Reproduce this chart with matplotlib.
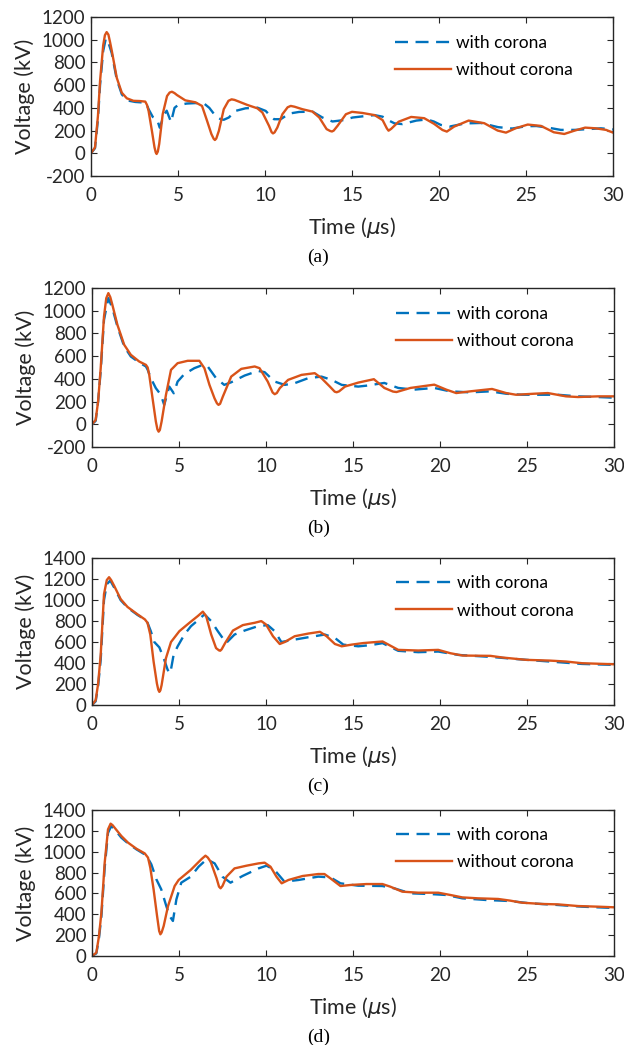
import matplotlib
matplotlib.use("Agg")
import matplotlib.pyplot as plt

# Panel (a)
t_a_with = [0, 0.23, 0.4, 0.52, 0.7, 0.85, 1.0, 1.19, 1.48, 1.77, 2.06, 2.54, 3.08, 3.2, 3.31, 3.55,
            3.8, 3.95, 4.2, 4.35, 4.6, 4.8, 5.0, 5.5, 6.0, 6.5, 6.8, 7.15, 7.45, 7.63, 7.92,
            8.3, 8.88, 9.56, 10.04, 10.3, 10.52, 10.9, 11.4, 11.96, 12.73, 13.3, 13.88,
            14.46, 15.04, 15.6, 16.3, 16.76, 17.1, 17.45, 17.9, 18.7, 19.3, 19.7, 20.1,
            20.6, 21.5, 22.4, 23.4, 24.2, 25.0, 25.6, 26.3, 27.0, 27.8, 28.5, 29.3, 30]
v_a_with = [0, 45, 300, 600, 900, 1010, 975, 883, 650, 519, 466, 452, 446, 430, 388, 320,
            298, 225, 340, 375, 275, 400, 425, 438, 442, 438, 400, 330, 300, 295, 315,
            373, 396, 402, 373, 330, 300, 300, 350, 364, 367, 315, 280,
            291, 315, 325, 336, 322, 290, 263, 257, 288, 298, 280, 250,
            235, 263, 267, 230, 218, 238, 240, 225, 206, 206, 212, 220, 210]
t_a_without = [0, 0.23, 0.4, 0.52, 0.7, 0.8, 0.9, 1.0, 1.1, 1.2, 1.48, 1.77, 2.06, 2.44, 2.8,
               3.12, 3.22, 3.31, 3.5, 3.65, 3.72, 3.77, 3.84, 3.92, 4.12, 4.37, 4.52, 4.65,
               4.8, 4.94, 5.42, 6.0, 6.38, 6.67, 6.92, 7.05, 7.12, 7.2, 7.35, 7.63, 7.9,
               8.08, 8.25, 8.5, 8.98, 9.56, 9.85, 10.23, 10.38, 10.46, 10.55, 10.71, 11.0,
               11.3, 11.48, 11.7, 12.15, 12.73, 13.12, 13.54, 13.75, 13.85, 13.95, 14.17,
               14.65, 15.0, 15.6, 16.3, 16.76, 17.0, 17.1, 17.25, 17.68, 18.4, 19.15, 19.72,
               20.2, 20.45, 20.87, 21.7, 22.6, 23.37, 23.85, 24.4, 25.1, 25.86, 26.6, 27.2,
               27.8, 28.4, 29.0, 29.6, 30]
v_a_without = [0, 52, 330, 635, 950, 1040, 1067, 1045, 975, 898, 665, 533, 484, 462, 460,
               455, 425, 373, 198, 52, 8, -6, 15, 82, 344, 504, 535, 542,
               530, 513, 466, 449, 417, 286, 169, 128, 117, 130, 198, 388, 462,
               475, 470, 455, 426, 396, 359, 242, 186, 175, 184, 227, 344,
               405, 417, 410, 388, 367, 315, 213, 196, 192, 200, 242,
               344, 365, 355, 336, 292, 220, 199, 215, 278, 320, 309, 259,
               205, 191, 235, 288, 265, 200, 182, 220, 253, 241, 185, 170,
               200, 226, 220, 206, 182]

# Panel (b)
t_b_with = [0, 0.21, 0.35, 0.5, 0.69, 0.94, 1.17, 1.46, 1.85, 2.23, 2.71, 3.1, 3.2, 3.38, 3.67,
            3.96, 4.15, 4.44, 4.7, 4.92, 5.3, 5.88, 6.37, 6.65, 7.13, 7.6, 8.0, 8.77, 9.54,
            9.92, 10.5, 11.08, 11.65, 12.42, 13.19, 13.77, 14.35, 15.3, 15.77, 16.8, 17.6,
            18.5, 19.67, 20.58, 21.73, 22.88, 23.8, 24.7, 25.85, 26.77, 27.93, 29.08, 30]
v_b_with = [0, 30, 200, 470, 920, 1111, 1023, 861, 685, 597, 544, 509, 480, 406, 318,
            259, 170, 332, 273, 376, 441, 494, 523, 509, 406, 347, 370, 429, 470,
            459, 376, 347, 362, 406, 420, 391, 347, 332, 340, 364, 320,
            305, 320, 290, 281, 290, 269, 260, 260, 260, 246, 240, 234]
t_b_without = [0, 0.21, 0.35, 0.5, 0.69, 0.82, 0.94, 1.05, 1.17, 1.46, 1.85, 2.23, 2.71, 3.1,
               3.2, 3.29, 3.48, 3.67, 3.76, 3.83, 3.9, 4.0, 4.25, 4.54, 4.92, 5.5, 6.17,
               6.46, 6.75, 7.04, 7.18, 7.27, 7.36, 7.52, 8.0, 8.58, 9.35, 9.63, 10.1, 10.38,
               10.5, 10.62, 10.79, 11.27, 12.04, 12.8, 13.19, 13.67, 13.95, 14.06, 14.2,
               14.54, 15.3, 16.2, 16.8, 17.3, 17.5, 18.3, 19.67, 20.36, 20.93, 21.73, 22.99,
               23.8, 24.37, 25.4, 26.2, 27.24, 27.93, 29.08, 30]
v_b_without = [0, 38, 200, 494, 950, 1110, 1155, 1120, 1052, 876, 700, 612, 553, 523,
               500, 435, 229, 24, -45, -65, -50, 24, 259, 479, 538, 559, 559,
               494, 347, 229, 185, 171, 180, 244, 420, 488, 509, 494, 376, 280,
               265, 275, 318, 391, 435, 450, 406, 332, 287, 282, 290,
               332, 367, 397, 320, 288, 284, 320, 349, 305, 275, 290, 311,
               275, 260, 269, 275, 246, 240, 246, 246]

# Panel (c)
t_c_with = [0, 0.21, 0.35, 0.5, 0.69, 0.85, 1.05, 1.27, 1.65, 2.04, 2.62, 3.1, 3.2, 3.38, 3.58,
            3.87, 4.12, 4.35, 4.5, 4.69, 4.92, 5.31, 5.69, 6.08, 6.46, 6.85, 7.23, 7.71,
            8.19, 8.77, 9.54, 10.1, 10.5, 10.88, 11.65, 12.42, 13.38, 13.96, 14.44, 15.3,
            16.0, 16.7, 17.6, 18.75, 19.9, 21.05, 22.9, 24.5, 26.3, 28.16, 30]
v_c_with = [0, 35, 180, 430, 1000, 1150, 1185, 1120, 998, 928, 857, 809, 780, 703, 600,
            549, 446, 334, 302, 478, 558, 671, 751, 806, 863, 799, 703, 590,
            671, 709, 751, 761, 703, 600, 623, 645, 671, 639, 575, 559,
            570, 589, 516, 503, 509, 477, 458, 436, 414, 391, 382]
t_c_without = [0, 0.21, 0.35, 0.5, 0.69, 0.85, 0.98, 1.1, 1.27, 1.65, 2.04, 2.62, 3.04, 3.19,
               3.35, 3.54, 3.73, 3.81, 3.87, 3.93, 4.0, 4.25, 4.54, 5.02, 5.6, 6.08, 6.37,
               6.56, 6.85, 7.13, 7.3, 7.37, 7.45, 7.65, 8.1, 8.67, 9.35, 9.73, 10.0, 10.4,
               10.79, 11.08, 11.65, 12.42, 13.1, 13.48, 13.96, 14.35, 14.92, 15.6, 16.7,
               17.6, 18.75, 19.9, 20.6, 21.3, 22.9, 23.6, 24.95, 26.3, 27.24, 28.16, 30]
v_c_without = [0, 45, 200, 478, 1056, 1190, 1217, 1190, 1136, 1008, 934, 863, 815, 783,
               671, 414, 205, 145, 125, 140, 189, 446, 600, 703, 783, 847, 889,
               847, 671, 542, 520, 517, 530, 590, 709, 761, 783, 799, 767, 655,
               581, 600, 655, 680, 697, 655, 581, 559, 575, 590, 605,
               525, 519, 525, 493, 471, 468, 452, 430, 423, 414, 398, 388]

# Panel (d)
t_d_with = [0, 0.25, 0.4, 0.54, 0.73, 0.92, 1.1, 1.3, 1.69, 2.07, 2.55, 3.12, 3.41, 3.7, 3.98,
            4.27, 4.46, 4.65, 4.85, 5.13, 5.67, 6.13, 6.59, 7.05, 7.5, 7.96, 8.65, 9.57,
            10.03, 10.49, 11.06, 11.87, 13.0, 13.7, 14.28, 15.3, 16.69, 17.37, 18.3, 19.45,
            20.36, 21.28, 22.65, 24.03, 25.18, 26.78, 28.16, 30]
v_d_with = [0, 25, 170, 380, 850, 1180, 1245, 1214, 1134, 1080, 1023, 965, 879, 735, 639,
            479, 383, 336, 543, 703, 760, 857, 927, 888, 760, 703, 767, 840,
            866, 825, 713, 729, 761, 754, 697, 674, 671, 649, 601, 594,
            585, 553, 537, 527, 505, 489, 473, 460]
t_d_without = [0, 0.25, 0.4, 0.54, 0.73, 0.92, 1.07, 1.18, 1.3, 1.69, 2.07, 2.55, 3.03, 3.22,
               3.35, 3.54, 3.74, 3.86, 3.93, 4.0, 4.12, 4.37, 4.75, 4.98, 5.67, 6.3, 6.52,
               6.65, 6.82, 7.16, 7.3, 7.39, 7.5, 7.73, 8.19, 8.88, 9.57, 9.92, 10.26, 10.6,
               10.9, 11.29, 12.1, 13.0, 13.36, 13.7, 14.28, 14.85, 15.77, 16.69, 17.14,
               17.83, 18.75, 19.9, 20.6, 21.28, 22.19, 23.34, 24.03, 24.72, 25.87, 26.78,
               27.93, 29.08, 30]
v_d_without = [0, 32, 190, 415, 895, 1214, 1269, 1255, 1230, 1150, 1087, 1029, 984, 943,
               847, 639, 383, 240, 208, 225, 288, 479, 671, 729, 825, 930, 962,
               945, 904, 745, 665, 649, 672, 761, 840, 866, 888, 895, 856, 761,
               697, 729, 767, 786, 786, 745, 671, 681, 690, 690, 665,
               617, 607, 607, 585, 562, 553, 547, 531, 511, 499, 495,
               479, 473, 467]

panels = [
    ("(a)", t_a_with, v_a_with, t_a_without, v_a_without, (-200, 1200)),
    ("(b)", t_b_with, v_b_with, t_b_without, v_b_without, (-200, 1200)),
    ("(c)", t_c_with, v_c_with, t_c_without, v_c_without, (0, 1400)),
    ("(d)", t_d_with, v_d_with, t_d_without, v_d_without, (0, 1400)),
]

# axes boxes in pixels: left, top, right, bottom
boxes = [(91, 17, 613, 176), (92, 288, 614, 447), (92, 558, 614, 705), (92, 810, 614, 956)]

W, H = 624, 1045
fig = plt.figure(figsize=(W / 100, H / 100), dpi=100)
plt.rcParams["font.family"] = ["Lato", "DejaVu Sans"]
plt.rcParams["axes.unicode_minus"] = False

blue = "#0072BD"
orange = "#D95319"
tick_color = "#262626"

for (cap, tw, vw, to, vo, ylim), (l, t, r, b) in zip(panels, boxes):
    ax = fig.add_axes([l / W, 1 - b / H, (r - l) / W, (b - t) / H])
    ax.plot(tw, vw, color=blue, lw=1.7, dashes=(5.5, 3.2), label="with corona")
    ax.plot(to, vo, color=orange, lw=1.7, label="without corona")
    ax.set_xlim(0, 30)
    ax.set_ylim(*ylim)
    ax.set_xticks(range(0, 31, 5))
    ax.set_yticks(range(ylim[0], ylim[1] + 1, 200))
    ax.tick_params(direction="in", top=True, right=True, length=4, width=0.8,
                   labelsize=13.5, colors=tick_color)
    ax.tick_params(axis="x", pad=8)
    ax.tick_params(axis="y", pad=4)
    for s in ax.spines.values():
        s.set_linewidth(1.0)
        s.set_color(tick_color)
    ax.set_ylabel("Voltage (kV)", fontsize=15.5, color=tick_color, labelpad=5)
    ax.set_xlabel(r"Time ($\mu$s)", fontsize=15.5, color=tick_color, labelpad=8)
    ax.legend(loc="upper left", bbox_to_anchor=(0.57, 0.93), frameon=False,
              fontsize=12.5, handlelength=3.2, handletextpad=0.3, labelspacing=0.65,
              borderaxespad=0)
    fig.text(0.51, 1 - (b + 81) / H, cap, ha="center", va="center",
             fontsize=14, family="Liberation Serif")

fig.savefig("out.png", dpi=100)
